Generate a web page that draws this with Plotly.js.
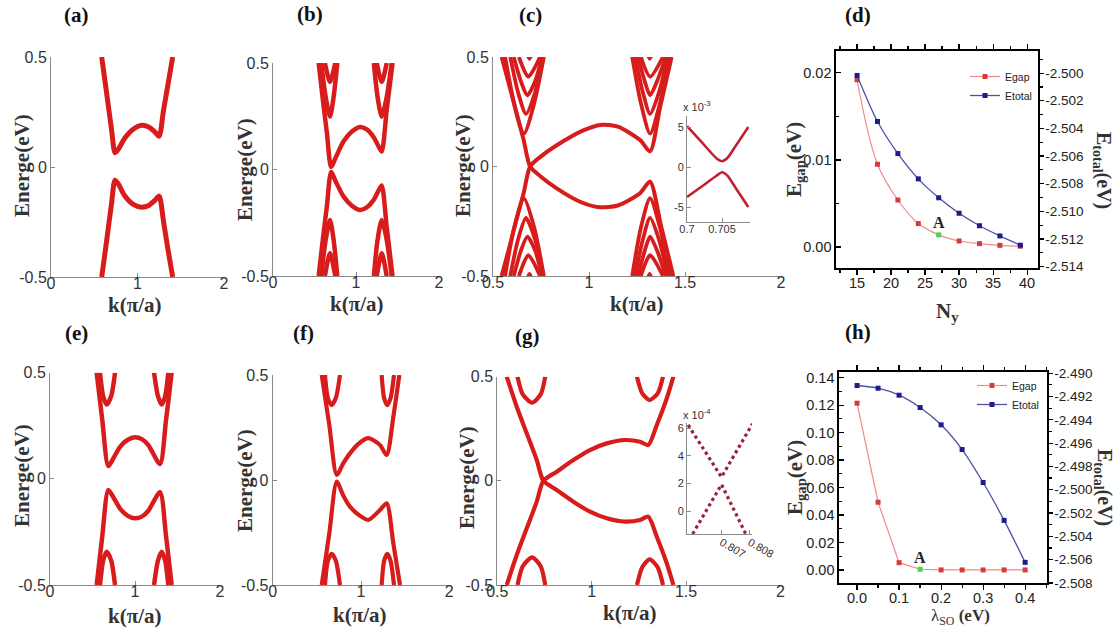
<!DOCTYPE html>
<html>
<head>
<meta charset="utf-8">
<script src="https://cdn.plot.ly/plotly-3.0.1.min.js"></script>
<style>
  html, body { margin: 0; padding: 0; background: #fff; }
  #chart { width: 1118px; height: 632px; }
</style>
</head>
<body>
<div id="chart"></div>
<script>
// ---------- band structures: k (pi/a) and energy (eV) per band ----------
// (a)
const aUpK = [0.586, 0.64, 0.70, 0.74, 0.78, 0.85, 0.95, 1.05, 1.13, 1.20, 1.25, 1.30, 1.35, 1.407];
const aUpE = [0.5, 0.345, 0.17, 0.065, 0.082, 0.13, 0.172, 0.19, 0.182, 0.16, 0.14, 0.256, 0.37, 0.5];
const aDnK = [0.586, 0.64, 0.70, 0.74, 0.78, 0.85, 0.95, 1.05, 1.13, 1.20, 1.25, 1.30, 1.35, 1.407];
const aDnE = [-0.5, -0.345, -0.165, -0.06, -0.078, -0.13, -0.17, -0.183, -0.175, -0.152, -0.132, -0.245, -0.37, -0.5];

// (b)
const bUpK = [0.55, 0.60, 0.65, 0.70, 0.76, 0.847, 0.95, 1.048, 1.13, 1.209, 1.27, 1.31, 1.37, 1.44];
const bUpE = [0.5, 0.33, 0.17, 0.012, 0.06, 0.13, 0.178, 0.2, 0.188, 0.154, 0.11, 0.084, 0.28, 0.5];
const bDnK = [0.55, 0.60, 0.65, 0.70, 0.76, 0.847, 0.95, 1.048, 1.13, 1.209, 1.27, 1.31, 1.37, 1.44];
const bDnE = [-0.5, -0.33, -0.17, -0.012, -0.06, -0.125, -0.17, -0.19, -0.178, -0.145, -0.1, -0.075, -0.27, -0.5];
const bSubLK1 = [0.58, 0.635, 0.687, 0.73, 0.775];
const bSubLE1 = [0.5, 0.34, 0.248, 0.34, 0.5];
const bSubLK2 = [0.625, 0.687, 0.75];
const bSubLE2 = [0.5, 0.412, 0.5];
const bSubRK1 = [1.215, 1.26, 1.31, 1.37, 1.43];
const bSubRE1 = [0.5, 0.34, 0.248, 0.34, 0.5];
const bSubRK2 = [1.25, 1.31, 1.37];
const bSubRE2 = [0.5, 0.412, 0.5];
const bSubLK3 = [0.58, 0.635, 0.687, 0.73, 0.775];
const bSubLE3 = [-0.5, -0.33, -0.237, -0.33, -0.5];
const bSubLK4 = [0.625, 0.687, 0.75];
const bSubLE4 = [-0.5, -0.393, -0.5];
const bSubRK3 = [1.215, 1.26, 1.31, 1.37, 1.43];
const bSubRE3 = [-0.5, -0.33, -0.237, -0.33, -0.5];
const bSubRK4 = [1.25, 1.31, 1.37];
const bSubRE4 = [-0.5, -0.393, -0.5];

// (c): two edge bands crossing near k = 0.69, plus the bulk subbands
const cXAK = [0.545, 0.585, 0.623, 0.66, 0.693, 0.745, 0.832, 0.953, 1.054, 1.15, 1.266, 1.318, 1.375, 1.439];
const cXAE = [0.5, 0.37, 0.24, 0.12, 0.0, -0.043, -0.1, -0.161, -0.186, -0.178, -0.122, -0.069, -0.27, -0.5];
const cXBK = [0.545, 0.585, 0.623, 0.66, 0.693, 0.745, 0.832, 0.97, 1.06, 1.15, 1.266, 1.318, 1.37, 1.43];
const cXBE = [-0.5, -0.37, -0.24, -0.12, 0.0, 0.043, 0.097, 0.165, 0.19, 0.182, 0.121, 0.069, 0.269, 0.5];
const cSubK1 = [0.563, 0.61, 0.661, 0.715, 0.765];
const cSubK2 = [0.59, 0.63, 0.672, 0.72, 0.762];
const cSubK3 = [0.608, 0.645, 0.679, 0.72, 0.755];
const cSubK4 = [0.635, 0.684, 0.745];
const cSubK5 = [0.675, 0.69, 0.705];
const cSubRK1 = [1.225, 1.27, 1.318, 1.37, 1.42];
const cSubRK2 = [1.24, 1.28, 1.318, 1.365, 1.41];
const cSubRK3 = [1.255, 1.29, 1.318, 1.355, 1.40];
const cSubRK4 = [1.27, 1.318, 1.385];
const cSubRK5 = [1.303, 1.316, 1.33];
const cSubUpE1 = [0.5, 0.29, 0.15, 0.29, 0.5];
const cSubUpE2 = [0.5, 0.34, 0.24, 0.34, 0.5];
const cSubUpE3 = [0.5, 0.39, 0.325, 0.39, 0.5];
const cSubUpE4 = [0.5, 0.41, 0.5];
const cSubUpE5 = [0.52, 0.492, 0.52];
const cSubDnE1 = [-0.5, -0.28, -0.145, -0.28, -0.5];
const cSubDnE2 = [-0.5, -0.335, -0.235, -0.335, -0.5];
const cSubDnE3 = [-0.5, -0.385, -0.32, -0.385, -0.5];
const cSubDnE4 = [-0.5, -0.405, -0.5];
const cSubDnE5 = [-0.52, -0.49, -0.52];
// (c) inset: zoom on the gap, energy in 1e-3 eV
const cInK = [0.7, 0.702, 0.7042, 0.705, 0.7058, 0.707, 0.70876];
const cInUpE = [5.1, 3.2, 1.1, 0.72, 1.15, 2.7, 5.0];
const cInDnE = [-3.75, -2.5, -1.1, -0.65, -1.1, -2.69, -5.0];

// (e)
const eUpK = [0.549, 0.615, 0.686, 0.75, 0.824, 0.91, 1.0, 1.08, 1.157, 1.294, 1.365, 1.431];
const eUpE = [0.5, 0.277, 0.06, 0.1, 0.151, 0.183, 0.196, 0.187, 0.159, 0.07, 0.277, 0.5];
const eDnK = [0.549, 0.615, 0.686, 0.75, 0.824, 0.91, 1.0, 1.08, 1.157, 1.294, 1.365, 1.431];
const eDnE = [-0.5, -0.27, -0.052, -0.09, -0.14, -0.173, -0.186, -0.178, -0.15, -0.063, -0.27, -0.5];
const eSubLK = [0.588, 0.625, 0.667, 0.72, 0.765];
const eSubRK = [1.224, 1.27, 1.314, 1.355, 1.392];
const eSubUpE = [0.5, 0.39, 0.35, 0.39, 0.5];
const eSubDnE = [-0.5, -0.385, -0.343, -0.385, -0.5];

// (f)
const fUpK = [0.555, 0.641, 0.725, 0.80, 0.875, 0.98, 1.083, 1.215, 1.291, 1.366, 1.434];
const fUpE = [0.5, 0.262, 0.024, 0.08, 0.127, 0.175, 0.199, 0.167, 0.119, 0.30, 0.5];
const fDnK = [0.555, 0.641, 0.725, 0.80, 0.875, 0.98, 1.083, 1.215, 1.291, 1.366, 1.442];
const fDnE = [-0.5, -0.254, -0.008, -0.075, -0.127, -0.168, -0.19, -0.143, -0.111, -0.302, -0.5];
const fSubLK = [0.592, 0.625, 0.668, 0.715, 0.762];
const fSubRK = [1.234, 1.262, 1.298, 1.335, 1.374];
const fSubUpE = [0.5, 0.39, 0.357, 0.39, 0.5];
const fSubDnE = [-0.5, -0.385, -0.352, -0.385, -0.5];

// (g)
const gAK = [0.55, 0.603, 0.656, 0.709, 0.744, 0.815, 0.903, 0.991, 1.08, 1.177, 1.256, 1.30, 1.345, 1.398, 1.433];
const gAE = [0.5, 0.356, 0.228, 0.1, 0.0, -0.044, -0.1, -0.148, -0.18, -0.196, -0.188, -0.172, -0.268, -0.396, -0.5];
const gBK = [0.55, 0.603, 0.656, 0.709, 0.744, 0.815, 0.903, 0.991, 1.08, 1.177, 1.256, 1.30, 1.345, 1.398, 1.433];
const gBE = [-0.5, -0.356, -0.228, -0.1, 0.0, 0.044, 0.1, 0.148, 0.18, 0.196, 0.188, 0.172, 0.268, 0.396, 0.5];
const gSubLK = [0.607, 0.635, 0.684, 0.73, 0.754];
const gSubRK = [1.24, 1.268, 1.307, 1.35, 1.378];
const gSubLUpE = [0.5, 0.415, 0.375, 0.415, 0.5];
const gSubRUpE = [0.5, 0.42, 0.388, 0.42, 0.5];
const gSubLDnE = [-0.5, -0.41, -0.367, -0.41, -0.5];
const gSubRDnE = [-0.5, -0.415, -0.377, -0.415, -0.5];
// (g) inset, energy in 1e-4 eV
const gInUpK = [0.80582, 0.807, 0.80812];
const gInUpE = [6.22, 2.45, 6.39];
const gInDnK = [0.80598, 0.807, 0.80786];
const gInDnE = [-1.66, 1.92, -1.66];

// (d) gap and total energy against ribbon width
const dNy = [15, 18, 21, 24, 27, 30, 33, 36, 39];
const dGap = [0.0192, 0.0095, 0.0054, 0.0027, 0.0014, 0.0007, 0.0004, 0.0002, 0.0001];
const dTot = [-2.50017, -2.5035, -2.50582, -2.50765, -2.50902, -2.51014, -2.51104, -2.51178, -2.51245];
const dPointA = 27;

// (h) gap and total energy against spin-orbit strength
const hLam = [0, 0.05, 0.1, 0.15, 0.2, 0.25, 0.3, 0.35, 0.4];
const hGap = [0.1214, 0.0493, 0.0053, 0.0005, 0, 0, 0, 0, 0];
const hTot = [-2.49106, -2.49129, -2.49189, -2.49295, -2.49443, -2.49655, -2.49938, -2.50263, -2.50623];
const hPointA = 0.15;

// tick labels
const eTicks = [-0.5, 0, 0.5];
const eTickText = ['-0.5', '0', '0.5'];
const kTicks = [0, 1, 2];
const kTickText = ['0', '1', '2'];
const kTicksWide = [0.5, 1, 1.5, 2];
const kTickTextWide = ['0.5', '1', '1.5', '2'];
const cInKTicks = [0.7, 0.705];
const cInKText = ['0.7', '0.705'];
const cInETicks = [-5, 0, 5];
const cInEText = ['-5', '0', '5'];
const gInKTicks = [0.807, 0.808];
const gInKText = ['0.807', '0.808'];
const gInETicks = [0, 2, 4, 6];
const gInEText = ['0', '2', '4', '6'];
const dGapTicks = [0, 0.01, 0.02];
const dGapText = ['0.00', '0.01', '0.02'];
const dTotTicks = [-2.514, -2.512, -2.510, -2.508, -2.506, -2.504, -2.502, -2.500];
const dTotText = ['-2.514', '-2.512', '-2.510', '-2.508', '-2.506', '-2.504', '-2.502', '-2.500'];
const dNyTicks = [15, 20, 25, 30, 35, 40];
const hGapTicks = [0, 0.02, 0.04, 0.06, 0.08, 0.10, 0.12, 0.14];
const hGapText = ['0.00', '0.02', '0.04', '0.06', '0.08', '0.10', '0.12', '0.14'];
const hTotTicks = [-2.508, -2.506, -2.504, -2.502, -2.500, -2.498, -2.496, -2.494, -2.492, -2.490];
const hTotText = ['-2.508', '-2.506', '-2.504', '-2.502', '-2.500', '-2.498', '-2.496', '-2.494', '-2.492', '-2.490'];
const hLamTicks = [0, 0.1, 0.2, 0.3, 0.4];
const hLamText = ['0.0', '0.1', '0.2', '0.3', '0.4'];

// ---------- styling ----------
const W = 1118, H = 632;
const RED = '#d81c1c';
const GREY = '#8a8a8a';
const SANS = '"Liberation Sans", Arial, sans-serif';
const SERIF = '"Liberation Serif", "Times New Roman", serif';

const px = (a, b) => [a / W, b / W];
const py = (top, bottom) => [1 - bottom / H, 1 - top / H];

function band(k, e, xa, ya, w, col) {
  return {
    x: k, y: e, xaxis: xa, yaxis: ya, mode: 'lines', showlegend: false, hoverinfo: 'skip',
    line: { color: col || RED, width: w, shape: 'spline', smoothing: 0.7 }
  };
}

function thinAxis(domain, range, anchor, vals, text, size, isX) {
  const ax = {
    domain, range, anchor, showline: true, linecolor: GREY, linewidth: 1,
    ticks: 'inside', ticklen: 4, tickcolor: GREY, tickvals: vals, ticktext: text,
    showgrid: false, zeroline: false, fixedrange: true,
    tickfont: { family: SANS, size: size || 16, color: '#333' }
  };
  if (isX) ax.ticklabelstandoff = size ? -3 : -8;
  return ax;
}

function boxX(domain, range, anchor, vals, text, minorDtick) {
  return {
    domain, range, anchor, showline: true, linecolor: '#000', linewidth: 1.6, mirror: 'ticks',
    ticks: 'outside', ticklen: 5, tickwidth: 1.2, tickcolor: '#000', tickvals: vals, ticktext: text,
    minor: { ticks: 'outside', ticklen: 3, dtick: minorDtick, tickcolor: '#000' },
    showgrid: false, zeroline: false, fixedrange: true, ticklabelstandoff: -4,
    tickfont: { family: SANS, size: 14.5, color: '#222' }
  };
}

function boxY(domain, range, anchor, vals, text, minorDtick, side, overlay) {
  const left = side === 'left';
  const ax = {
    range, anchor, side, showline: true, linecolor: '#000', linewidth: 1.6,
    ticks: left ? 'inside' : 'outside', ticklen: left ? 5 : 4, tickwidth: 1.2, tickcolor: '#000',
    tickvals: vals, ticktext: text,
    minor: { ticks: left ? 'inside' : 'outside', ticklen: 3, dtick: minorDtick, tickcolor: '#000' },
    showgrid: false, zeroline: false, fixedrange: true,
    tickfont: { family: SANS, size: left ? 14.5 : 13.5, color: '#222' }
  };
  if (!left) ax.ticklabelstandoff = -1;
  if (overlay) ax.overlaying = overlay; else ax.domain = domain;
  return ax;
}

// ---------- traces ----------
const traces = [];
// (a)
traces.push(band(aUpK, aUpE, 'x', 'y', 5), band(aDnK, aDnE, 'x', 'y', 5));
// (b)
traces.push(band(bUpK, bUpE, 'x2', 'y2', 4.5), band(bDnK, bDnE, 'x2', 'y2', 4.5));
[[bSubLK1, bSubLE1], [bSubLK2, bSubLE2], [bSubRK1, bSubRE1], [bSubRK2, bSubRE2],
 [bSubLK3, bSubLE3], [bSubLK4, bSubLE4], [bSubRK3, bSubRE3], [bSubRK4, bSubRE4]]
  .forEach(([k, e]) => traces.push(band(k, e, 'x2', 'y2', 4.5)));
// (c)
traces.push(band(cXAK, cXAE, 'x3', 'y3', 4), band(cXBK, cXBE, 'x3', 'y3', 4));
[[cSubK1, cSubUpE1], [cSubK2, cSubUpE2], [cSubK3, cSubUpE3], [cSubK4, cSubUpE4], [cSubK5, cSubUpE5],
 [cSubK1, cSubDnE1], [cSubK2, cSubDnE2], [cSubK3, cSubDnE3], [cSubK4, cSubDnE4], [cSubK5, cSubDnE5],
 [cSubRK1, cSubUpE1], [cSubRK2, cSubUpE2], [cSubRK3, cSubUpE3], [cSubRK4, cSubUpE4], [cSubRK5, cSubUpE5],
 [cSubRK1, cSubDnE1], [cSubRK2, cSubDnE2], [cSubRK3, cSubDnE3], [cSubRK4, cSubDnE4], [cSubRK5, cSubDnE5]]
  .forEach(([k, e]) => traces.push(band(k, e, 'x3', 'y3', 3.8)));
traces.push(band(cInK, cInUpE, 'x4', 'y4', 2.6, '#c22030'), band(cInK, cInDnE, 'x4', 'y4', 2.6, '#c22030'));
// (e)
traces.push(band(eUpK, eUpE, 'x7', 'y7', 4.5), band(eDnK, eDnE, 'x7', 'y7', 4.5));
[[eSubLK, eSubUpE], [eSubRK, eSubUpE], [eSubLK, eSubDnE], [eSubRK, eSubDnE]]
  .forEach(([k, e]) => traces.push(band(k, e, 'x7', 'y7', 4.5)));
// (f)
traces.push(band(fUpK, fUpE, 'x8', 'y8', 4.2), band(fDnK, fDnE, 'x8', 'y8', 4.2));
[[fSubLK, fSubUpE], [fSubRK, fSubUpE], [fSubLK, fSubDnE], [fSubRK, fSubDnE]]
  .forEach(([k, e]) => traces.push(band(k, e, 'x8', 'y8', 4.2)));
// (g)
traces.push(band(gAK, gAE, 'x9', 'y9', 4.2), band(gBK, gBE, 'x9', 'y9', 4.2));
[[gSubLK, gSubLUpE], [gSubRK, gSubRUpE], [gSubLK, gSubLDnE], [gSubRK, gSubRDnE]]
  .forEach(([k, e]) => traces.push(band(k, e, 'x9', 'y9', 4.2)));
[[gInUpK, gInUpE], [gInDnK, gInDnE]].forEach(([k, e]) => traces.push({
  x: k, y: e, xaxis: 'x10', yaxis: 'y10', mode: 'lines', showlegend: false, hoverinfo: 'skip',
  line: { color: '#9c2038', width: 3.2, dash: 'dot' }
}));

// (d) and (h): gap (left axis) and total energy (right axis)
const GAP_RED = '#d83a3a', GAP_LINE = '#f08a8a', GREEN = '#4cd24c';
const TOT_BLUE = '#1c1c8c', TOT_LINE = '#4f4fa6';
function gapTrace(x, y, pointA, xa, ya, leg, lineShape) {
  return {
    x, y, xaxis: xa, yaxis: ya, name: 'Egap', legend: leg, mode: 'lines+markers', hoverinfo: 'skip',
    line: { color: GAP_LINE, width: 1.2, shape: lineShape },
    marker: { symbol: 'square', size: 5, color: x.map(v => v === pointA ? GREEN : GAP_RED) }
  };
}
function totTrace(x, y, xa, ya, leg) {
  return {
    x, y, xaxis: xa, yaxis: ya, name: 'Etotal', legend: leg, mode: 'lines+markers', hoverinfo: 'skip',
    line: { color: TOT_LINE, width: 1.3, shape: 'spline', smoothing: 0.8 },
    marker: { symbol: 'square', size: 5, color: TOT_BLUE }
  };
}
traces.push(gapTrace(dNy, dGap, dPointA, 'x5', 'y5', 'legend', 'spline'));
traces.push(totTrace(dNy, dTot, 'x5', 'y6', 'legend'));
traces.push(gapTrace(hLam, hGap, hPointA, 'x11', 'y11', 'legend2', 'linear'));
traces.push(totTrace(hLam, hTot, 'x11', 'y12', 'legend2'));

// ---------- layout ----------
const layout = {
  width: W, height: H, margin: { l: 0, r: 0, t: 0, b: 0 },
  paper_bgcolor: '#fff', plot_bgcolor: 'rgba(0,0,0,0)',
  showlegend: true,
  legend: {
    x: 1037 / W, y: 1 - 62 / H, xanchor: 'right', yanchor: 'top', bgcolor: 'rgba(0,0,0,0)',
    font: { family: SANS, size: 10.5, color: '#222' }, itemwidth: 30, tracegroupgap: 0
  },
  legend2: {
    x: 1044 / W, y: 1 - 371 / H, xanchor: 'right', yanchor: 'top', bgcolor: 'rgba(0,0,0,0)',
    font: { family: SANS, size: 10.5, color: '#222' }, itemwidth: 30, tracegroupgap: 0
  },

  xaxis: thinAxis(px(51, 224), [0, 2], 'y', kTicks, kTickText, 0, true),
  yaxis: thinAxis(py(57, 277), [-0.5, 0.5], 'x', eTicks, eTickText),
  xaxis2: thinAxis(px(273, 439), [0, 2], 'y2', kTicks, kTickText, 0, true),
  yaxis2: thinAxis(py(63, 276), [-0.5, 0.5], 'x2', eTicks, eTickText),
  xaxis3: thinAxis(px(493, 781), [0.5, 2], 'y3', kTicksWide, kTickTextWide, 0, true),
  yaxis3: thinAxis(py(57, 276), [-0.5, 0.5], 'x3', eTicks, eTickText),
  xaxis4: thinAxis(px(687, 750), [0.7, 0.709], 'y4', cInKTicks, cInKText, 11, true),
  yaxis4: thinAxis(py(116, 222), [-6.875, 6.375], 'x4', cInETicks, cInEText, 11),

  xaxis5: boxX(px(836, 1038), [11.9, 41.6], 'y5', dNyTicks, dNyTicks.map(String), 2.5),
  yaxis5: boxY(py(51, 268), [-0.0024, 0.0225], 'x5', dGapTicks, dGapText, 0.005, 'left'),
  yaxis6: boxY(null, [-2.5141, -2.4984], 'x5', dTotTicks, dTotText, 0.001, 'right', 'y5'),

  xaxis7: thinAxis(px(50, 220), [0, 2], 'y7', kTicks, kTickText, 0, true),
  yaxis7: thinAxis(py(372.7, 585), [-0.5, 0.5], 'x7', eTicks, eTickText),
  xaxis8: thinAxis(px(272.7, 449.3), [0, 2], 'y8', kTicks, kTickText, 0, true),
  yaxis8: thinAxis(py(375, 585), [-0.5, 0.5], 'x8', eTicks, eTickText),
  xaxis9: thinAxis(px(497.3, 780.4), [0.5, 2], 'y9', kTicksWide, kTickTextWide, 0, true),
  yaxis9: thinAxis(py(376.7, 585), [-0.5, 0.5], 'x9', eTicks, eTickText),
  xaxis10: thinAxis(px(687, 752), [0.80578, 0.80808], 'y10', gInKTicks, gInKText, 11, true),
  yaxis10: thinAxis(py(423.3, 534), [-1.663, 6.34], 'x10', gInETicks, gInEText, 11),

  xaxis11: boxX(px(839, 1047), [-0.043, 0.452], 'y11', hLamTicks, hLamText, 0.05),
  yaxis11: boxY(py(372, 583), [-0.0095, 0.1441], 'x11', hGapTicks, hGapText, 0.01, 'left'),
  yaxis12: boxY(null, [-2.508, -2.4899], 'x11', hTotTicks, hTotText, 0.001, 'right', 'y11'),

  annotations: []
};

function label(text, x, y, size, opts) {
  return Object.assign({
    xref: 'paper', yref: 'paper', x: x / W, y: 1 - y / H, text, showarrow: false,
    xanchor: 'center', yanchor: 'middle',
    font: { family: SERIF, size: size, color: '#333' }
  }, opts || {});
}

const ann = layout.annotations;
// panel letters
[['(a)', 77, 15], ['(b)', 310, 14], ['(c)', 530, 15], ['(d)', 858, 15],
 ['(e)', 77, 333], ['(f)', 303, 333], ['(g)', 527, 336], ['(h)', 858, 332]]
  .forEach(([t, x, y]) => ann.push(label('<b>' + t + '</b>', x, y, 21, { font: { family: SERIF, size: 21, color: '#111' } })));
// energy axis titles
[[22, 166], [245, 170], [463, 166], [22, 476], [245, 481], [467, 478]]
  .forEach(([x, y]) => ann.push(label('<b>Energe(eV)</b>', x, y, 21, { textangle: -90 })));
// momentum axis titles
[[135, 305], [357, 304], [637, 304], [135, 616], [360, 615], [630, 613]]
  .forEach(([x, y]) => ann.push(label('<b>k(π/a)</b>', x, y, 21)));
// inset exponents
ann.push(label('x 10<sup>-3</sup>', 681, 106, 11, { xanchor: 'left', font: { family: SANS, size: 11, color: '#333' } }));
ann.push(label('x 10<sup>-4</sup>', 681, 414, 11, { xanchor: 'left', font: { family: SANS, size: 11, color: '#333' } }));
// (d) and (h) titles
ann.push(label('<b>E<sub>gap</sub>(eV)</b>', 795, 160, 21, { textangle: -90 }));
ann.push(label('<b>E<sub>total</sub>(eV)</b>', 1103, 170, 20, { textangle: 90 }));
ann.push(label('<b>N<sub>y</sub></b>', 947, 312, 21));
ann.push(label('<b>E<sub>gap</sub>(eV)</b>', 796, 478, 21, { textangle: -90 }));
ann.push(label('<b>E<sub>total</sub>(eV)</b>', 1104, 487, 20, { textangle: 90 }));
ann.push(label('λ<sub>SO</sub> <b>(eV)</b>', 960, 617, 17));
// point A labels, placed from the data point
ann.push({ xref: 'x5', yref: 'y5', x: dPointA, y: dGap[dNy.indexOf(dPointA)], text: '<b>A</b>',
  showarrow: false, yshift: 12, font: { family: SERIF, size: 16, color: '#222' } });
ann.push({ xref: 'x11', yref: 'y11', x: hPointA, y: hGap[hLam.indexOf(hPointA)], text: '<b>A</b>',
  showarrow: false, yshift: 12, font: { family: SERIF, size: 16, color: '#222' } });

Plotly.newPlot('chart', traces, layout, { displayModeBar: false, staticPlot: true });
</script>
</body>
</html>
